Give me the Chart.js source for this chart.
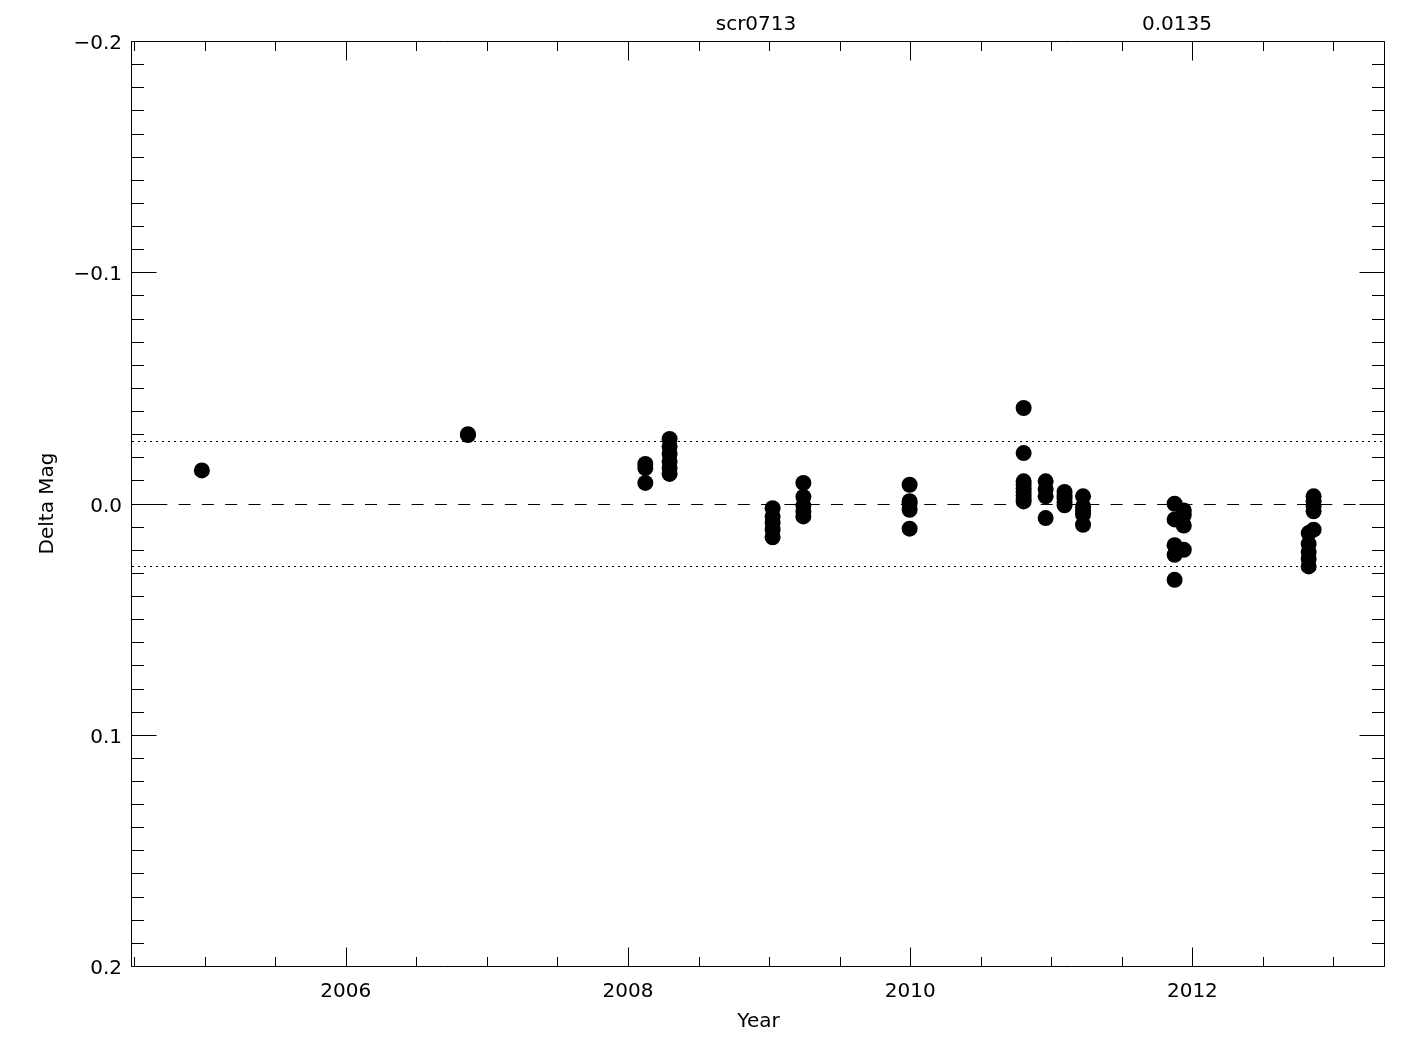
<!DOCTYPE html>
<html>
<head>
<meta charset="utf-8">
<title>scr0713 Delta Mag</title>
<script src="https://cdn.jsdelivr.net/npm/chart.js@4.4.1/dist/chart.umd.min.js"></script>
<style>
  html, body { margin: 0; padding: 0; background: #fff; }
  #wrap { width: 1425px; height: 1050px; }
</style>
</head>
<body>
<div id="wrap"><canvas id="magChart" width="1425" height="1050"></canvas></div>
<script>
// --- data ---
const obsYear = [
  2004.980,
  2006.866, 2006.866,
  2008.123, 2008.123, 2008.123,
  2008.295, 2008.295, 2008.295, 2008.295, 2008.295, 2008.295,
  2009.025, 2009.025, 2009.025, 2009.025, 2009.025,
  2009.243, 2009.243, 2009.243, 2009.243, 2009.243,
  2009.996, 2009.996, 2009.996, 2009.996, 2009.996,
  2010.804, 2010.804, 2010.804, 2010.804, 2010.804, 2010.804, 2010.804, 2010.804, 2010.804,
  2010.960, 2010.960, 2010.960, 2010.960,
  2011.094, 2011.094, 2011.094, 2011.094, 2011.094,
  2011.225, 2011.225, 2011.225, 2011.225, 2011.225,
  2011.874, 2011.874, 2011.874, 2011.874, 2011.874,
  2011.939, 2011.939, 2011.939, 2011.939,
  2012.824, 2012.824, 2012.824, 2012.824, 2012.824,
  2012.859, 2012.859, 2012.859, 2012.859, 2012.859
];
const obsDeltaMag = [
  -0.0143,
  -0.0300, -0.0296,
  -0.0171, -0.0153, -0.0089,
  -0.0279, -0.0247, -0.0214, -0.0182, -0.0153, -0.0128,
  0.0020, 0.0056, 0.0084, 0.0113, 0.0146,
  -0.0089, -0.0029, 0.0010, 0.0036, 0.0056,
  -0.0081, -0.0010, 0.0000, 0.0027, 0.0109,
  -0.0413, -0.0218, -0.0096, -0.0080, -0.0065, -0.0050, -0.0035, -0.0020, -0.0009,
  -0.0096, -0.0062, -0.0031, 0.0063,
  -0.0050, -0.0035, -0.0021, -0.0005, 0.0008,
  -0.0031, 0.0013, 0.0030, 0.0048, 0.0092,
  0.0001, 0.0069, 0.0180, 0.0222, 0.0330,
  0.0030, 0.0050, 0.0095, 0.0200,
  0.0128, 0.0175, 0.0210, 0.0240, 0.0272,
  -0.0031, -0.0010, 0.0012, 0.0034, 0.0113
];

const scatterLimit = 0.027;          // dotted lines at +/- this
const headerTexts = ['scr0713', '0.0135'];

const xMin = 2004.485, xMax = 2013.365;
const yMin = -0.2, yMax = 0.2;
const xTickValues = [2006, 2008, 2010, 2012];
const xTickLabels = ['2006', '2008', '2010', '2012'];
const yTickValues = [-0.2, -0.1, 0, 0.1, 0.2];
const yTickLabels = ['\u22120.2', '\u22120.1', '0.0', '0.1', '0.2'];

const FONT = "'DejaVu Sans ExtraLight', 'DejaVu Sans', sans-serif";

Chart.defaults.animation = false;
Chart.defaults.font.family = FONT;
Chart.defaults.font.size = 20;
Chart.defaults.color = '#000';

// reference lines, snapped to whole pixels so the dots stay crisp
const refLinesPlugin = {
  id: 'refLines',
  beforeDatasetsDraw(chart) {
    const {ctx, chartArea: a, scales: {y}} = chart;
    const lines = [[0, [12, 11.3]], [scatterLimit, [2, 4]], [-scatterLimit, [2, 4]]];
    ctx.save();
    ctx.strokeStyle = '#000';
    ctx.lineWidth = 1;
    lines.forEach(([v, dash]) => {
      const py = Math.round(y.getPixelForValue(v)) + 0.5;
      ctx.setLineDash(dash);
      ctx.beginPath();
      ctx.moveTo(Math.round(a.left), py);
      ctx.lineTo(Math.round(a.right), py);
      ctx.stroke();
    });
    ctx.restore();
  }
};

// IDL style box with inward ticks (majors + minors) on all four sides
const idlFramePlugin = {
  id: 'idlFrame',
  afterDatasetsDraw(chart) {
    const {ctx, chartArea: a, scales: {x, y}} = chart;
    const L = Math.round(a.left) - 0.5, R = Math.round(a.right) - 0.5;
    const T = Math.round(a.top) + 0.5, B = Math.round(a.bottom) + 0.5;
    ctx.save();
    ctx.strokeStyle = '#000';
    ctx.lineWidth = 1;
    ctx.beginPath();
    ctx.rect(L, T, R - L, B - T);

    // x: minor every half year, major on the labelled years
    for (let k = Math.ceil(xMin * 2); k / 2 <= xMax; k++) {
      const v = k / 2;
      const px = Math.round(x.getPixelForValue(v)) + 0.5;
      const len = xTickValues.includes(v) ? 19 : 9.5;
      ctx.moveTo(px, B); ctx.lineTo(px, B - len);
      ctx.moveTo(px, T); ctx.lineTo(px, T + len);
    }
    // y: minor every 0.01, major every 0.1
    for (let k = -20; k <= 20; k++) {
      const py = Math.round(y.getPixelForValue(k / 100)) + 0.5;
      const len = k % 10 === 0 ? 25 : 12.5;
      ctx.moveTo(L, py); ctx.lineTo(L + len, py);
      ctx.moveTo(R, py); ctx.lineTo(R - len, py);
    }
    ctx.stroke();

    // header texts above the box
    ctx.fillStyle = '#000';
    ctx.font = '20px ' + FONT;
    ctx.textAlign = 'center';
    ctx.textBaseline = 'middle';
    ctx.fillText(headerTexts[0], 756, 25);
    ctx.fillText(headerTexts[1], 1177, 25);
    ctx.restore();
  }
};

function makeMagChart() {
  const ctx = document.getElementById('magChart');
  const points = obsYear.map((yr, i) => ({x: yr, y: obsDeltaMag[i]}));
  new Chart(ctx, {
    type: 'scatter',
    data: {
      datasets: [{
        label: 'Delta Mag',
        data: points,
        pointRadius: 8,
        pointHoverRadius: 8,
        pointBorderWidth: 0,
        backgroundColor: '#000',
        borderColor: '#000'
      }]
    },
    options: {
      responsive: false,
      animation: false,
      events: [],
      layout: { padding: { top: 41, right: 40, left: 0, bottom: 0 } },
      plugins: { legend: { display: false }, tooltip: { enabled: false } },
      scales: {
        x: {
          type: 'linear',
          min: xMin, max: xMax,
          grid: { display: false, drawTicks: false },
          border: { display: false },
          afterBuildTicks: s => { s.ticks = xTickValues.map(v => ({value: v})); },
          afterFit: s => { s.height = 84; },
          ticks: {
            padding: 14,
            autoSkip: false,
            maxRotation: 0,
            callback: v => xTickLabels[xTickValues.indexOf(v)]
          },
          title: { display: true, text: 'Year', padding: { top: 0, bottom: 16 } }
        },
        y: {
          type: 'linear',
          reverse: true,
          min: yMin, max: yMax,
          grid: { display: false, drawTicks: false },
          border: { display: false },
          afterBuildTicks: s => { s.ticks = yTickValues.map(v => ({value: v})); },
          afterFit: s => { s.width = 132; },
          ticks: {
            padding: 10,
            labelOffset: 3,
            autoSkip: false,
            callback: v => yTickLabels[yTickValues.indexOf(v)]
          },
          title: { display: true, text: 'Delta Mag', padding: { top: 36, bottom: 0 } }
        }
      }
    },
    plugins: [refLinesPlugin, idlFramePlugin]
  });
}

makeMagChart();
</script>
</body>
</html>
